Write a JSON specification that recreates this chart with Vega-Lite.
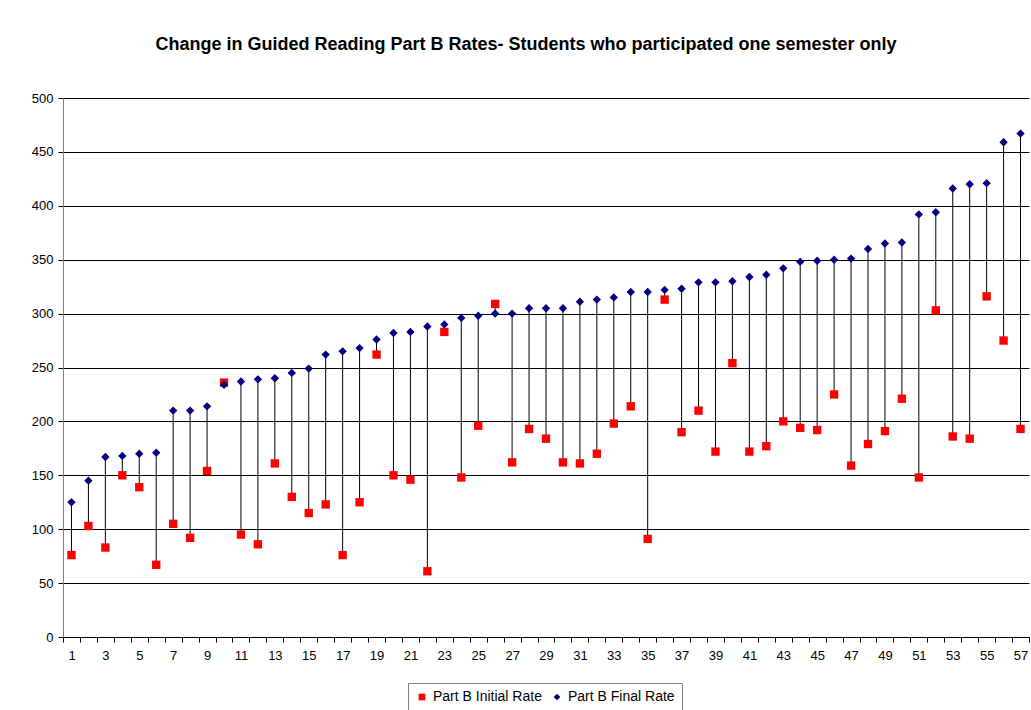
{
  "$schema": "https://vega.github.io/schema/vega-lite/v6.json",
  "width": 966,
  "height": 539,
  "autosize": "none",
  "padding": {"left": 63, "top": 98, "right": 2, "bottom": 73},
  "background": "white",
  "title": {
    "text": "Change in Guided Reading Part B Rates- Students who participated one semester only",
    "font": "Liberation Sans",
    "fontSize": 18,
    "fontWeight": "bold",
    "color": "#000",
    "anchor": "middle",
    "dx": -20,
    "offset": 38
  },
  "data": {
    "values": [
      {"n": 1, "initial": 76, "final": 125},
      {"n": 2, "initial": 103, "final": 145},
      {"n": 3, "initial": 83, "final": 167},
      {"n": 4, "initial": 150, "final": 168},
      {"n": 5, "initial": 139, "final": 170},
      {"n": 6, "initial": 67, "final": 171},
      {"n": 7, "initial": 105, "final": 210},
      {"n": 8, "initial": 92, "final": 210},
      {"n": 9, "initial": 154, "final": 214},
      {"n": 10, "initial": 236, "final": 234},
      {"n": 11, "initial": 95, "final": 237},
      {"n": 12, "initial": 86, "final": 239},
      {"n": 13, "initial": 161, "final": 240},
      {"n": 14, "initial": 130, "final": 245},
      {"n": 15, "initial": 115, "final": 249},
      {"n": 16, "initial": 123, "final": 262},
      {"n": 17, "initial": 76, "final": 265},
      {"n": 18, "initial": 125, "final": 268},
      {"n": 19, "initial": 262, "final": 276},
      {"n": 20, "initial": 150, "final": 282},
      {"n": 21, "initial": 146, "final": 283},
      {"n": 22, "initial": 61, "final": 288},
      {"n": 23, "initial": 283, "final": 290},
      {"n": 24, "initial": 148, "final": 296},
      {"n": 25, "initial": 196, "final": 298},
      {"n": 26, "initial": 309, "final": 300},
      {"n": 27, "initial": 162, "final": 300},
      {"n": 28, "initial": 193, "final": 305},
      {"n": 29, "initial": 184, "final": 305},
      {"n": 30, "initial": 162, "final": 305},
      {"n": 31, "initial": 161, "final": 311},
      {"n": 32, "initial": 170, "final": 313},
      {"n": 33, "initial": 198, "final": 315},
      {"n": 34, "initial": 214, "final": 320},
      {"n": 35, "initial": 91, "final": 320},
      {"n": 36, "initial": 313, "final": 322},
      {"n": 37, "initial": 190, "final": 323},
      {"n": 38, "initial": 210, "final": 329},
      {"n": 39, "initial": 172, "final": 329},
      {"n": 40, "initial": 254, "final": 330},
      {"n": 41, "initial": 172, "final": 334},
      {"n": 42, "initial": 177, "final": 336},
      {"n": 43, "initial": 200, "final": 342},
      {"n": 44, "initial": 194, "final": 348},
      {"n": 45, "initial": 192, "final": 349},
      {"n": 46, "initial": 225, "final": 350},
      {"n": 47, "initial": 159, "final": 351},
      {"n": 48, "initial": 179, "final": 360},
      {"n": 49, "initial": 191, "final": 365},
      {"n": 50, "initial": 221, "final": 366},
      {"n": 51, "initial": 148, "final": 392},
      {"n": 52, "initial": 303, "final": 394},
      {"n": 53, "initial": 186, "final": 416},
      {"n": 54, "initial": 184, "final": 420},
      {"n": 55, "initial": 316, "final": 421},
      {"n": 56, "initial": 275, "final": 459},
      {"n": 57, "initial": 193, "final": 467}
    ]
  },
  "encoding": {
    "x": {
      "field": "n",
      "type": "quantitative",
      "title": null,
      "scale": {"domain": [0.5, 57.5], "nice": false, "zero": false},
      "axis": {
        "values": [0.5, 1.5, 2.5, 3.5, 4.5, 5.5, 6.5, 7.5, 8.5, 9.5, 10.5, 11.5, 12.5, 13.5, 14.5, 15.5, 16.5, 17.5, 18.5, 19.5, 20.5, 21.5, 22.5, 23.5, 24.5, 25.5, 26.5, 27.5, 28.5, 29.5, 30.5, 31.5, 32.5, 33.5, 34.5, 35.5, 36.5, 37.5, 38.5, 39.5, 40.5, 41.5, 42.5, 43.5, 44.5, 45.5, 46.5, 47.5, 48.5, 49.5, 50.5, 51.5, 52.5, 53.5, 54.5, 55.5, 56.5, 57.5],
        "labelExpr": "(datum.value + 0.5) % 2 == 1 ? format(datum.value + 0.5, 'd') : ''",
        "labelOffset": 8.5,
        "labelFlush": false,
        "labelOverlap": false,
        "labelBound": false,
        "labelAngle": 0,
        "labelFont": "Liberation Sans",
        "labelFontSize": 13,
        "labelColor": "#000",
        "labelPadding": 7,
        "tickSize": 5,
        "tickColor": "#000",
        "domainColor": "#000",
        "grid": false
      }
    }
  },
  "layer": [
    {
      "mark": {"type": "rule", "color": "#000", "strokeWidth": 1},
      "encoding": {
        "y": {
          "field": "initial",
          "type": "quantitative",
          "title": null,
          "scale": {"domain": [0, 500], "nice": false},
          "axis": {
            "values": [0, 50, 100, 150, 200, 250, 300, 350, 400, 450, 500],
            "labelFont": "Liberation Sans",
            "labelFontSize": 13,
            "labelColor": "#000",
            "labelPadding": 5,
            "tickSize": 5,
            "tickColor": "#000",
            "domainColor": "#808080",
            "gridColor": "#000",
            "gridWidth": 1,
            "gridOpacity": 1
          }
        },
        "y2": {"field": "final"}
      }
    },
    {
      "transform": [{"fold": ["initial", "final"], "as": ["series", "value"]}],
      "mark": {"type": "point", "filled": true, "opacity": 1, "size": 70},
      "encoding": {
        "y": {"field": "value", "type": "quantitative"},
        "color": {
          "field": "series",
          "type": "nominal",
          "scale": {"domain": ["initial", "final"], "range": ["#ff0000", "#000080"]},
          "legend": {
            "title": null,
            "orient": "none",
            "legendX": 345,
            "legendY": 585,
            "direction": "horizontal",
            "labelExpr": "datum.value == 'initial' ? 'Part B Initial Rate' : 'Part B Final Rate'",
            "labelFont": "Liberation Sans",
            "labelFontSize": 14,
            "labelColor": "#000",
            "strokeColor": "#808080",
            "padding": 7,
            "symbolSize": 45,
            "columnPadding": 8,
            "labelOffset": 4
          }
        },
        "shape": {
          "field": "series",
          "type": "nominal",
          "scale": {"domain": ["initial", "final"], "range": ["square", "diamond"]}
        }
      }
    }
  ],
  "config": {
    "view": {"stroke": null},
    "font": "Liberation Sans"
  }
}
